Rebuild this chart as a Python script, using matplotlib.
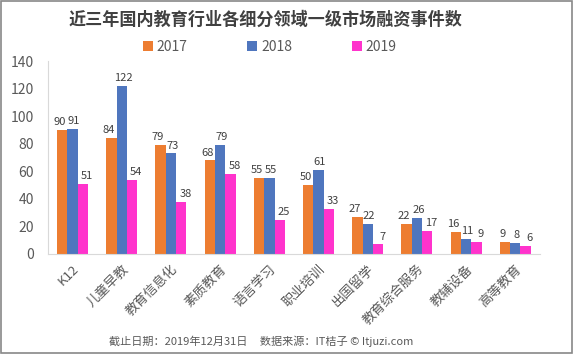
import matplotlib
matplotlib.use("Agg")
import matplotlib.pyplot as plt
from matplotlib.transforms import offset_copy
import numpy as np

plt.rcParams['font.family'] = ['Noto Sans CJK SC', 'DejaVu Sans']

categories = ["K12", "儿童早教", "教育信息化", "素质教育", "语言学习", "职业培训",
              "出国留学", "教育综合服务", "教辅设备", "高等教育"]
years = ["2017", "2018", "2019"]
v2017 = [90, 84, 79, 68, 55, 50, 27, 22, 16, 9]
v2018 = [91, 122, 73, 79, 55, 61, 22, 26, 11, 8]
v2019 = [51, 54, 38, 58, 25, 33, 7, 17, 9, 6]
colors = ["#ED7D31", "#4F76BE", "#FF33CC"]

fig = plt.figure(figsize=(5.74, 3.54), dpi=100)
ax = fig.add_axes([0.0836, 0.2825, 0.857, 0.545])

x = np.arange(len(categories))
w = 0.21
xoffs = [-1.8, 1.0, 3.0]  # points
for i, (vals, c, lab) in enumerate(zip([v2017, v2018, v2019], colors, years)):
    bars = ax.bar(x + (i - 1) * w, vals, w, color=c, label=lab)
    tr = offset_copy(ax.transData, fig=fig, x=xoffs[i], y=2, units='points')
    for b, v in zip(bars, vals):
        ax.text(b.get_x() + b.get_width() / 2, v, str(v), ha='center', va='bottom',
                fontsize=8, color='#404040', transform=tr)

ax.set_xlim(-0.5, len(categories) - 0.5)
ax.set_ylim(0, 140)
ax.set_yticks(np.arange(0, 141, 20))
ax.set_xticks(x)
ax.set_xticklabels(categories, rotation=45, ha='right', rotation_mode='anchor',
                   fontsize=9.5, color='#595959')
ax.tick_params(axis='y', labelsize=10, colors='#595959', length=0, pad=10)
ax.tick_params(axis='x', length=0, pad=6)
for s in ['top', 'right']:
    ax.spines[s].set_visible(False)
ax.spines['left'].set_color('#D9D9D9')
ax.spines['bottom'].set_color('#D9D9D9')

fig.text(0.463, 0.945, "近三年国内教育行业各细分领域一级市场融资事件数", ha='center', va='center',
         fontsize=12.3, fontweight='bold', color='#404040')
leg = fig.legend(loc='center', bbox_to_anchor=(0.47, 0.868), ncol=3, frameon=False,
                 fontsize=10, handlelength=0.7, handleheight=0.7, columnspacing=4.3,
                 handletextpad=0.3)
for t in leg.get_texts():
    t.set_color('#595959')
fig.text(0.455, 0.035, "截止日期：2019年12月31日     数据来源：IT桔子 © Itjuzi.com",
         ha='center', va='center', fontsize=8, color='#595959')

fig.patches.append(plt.Rectangle((0.002, 0.003), 0.995, 0.993, transform=fig.transFigure,
                                 fill=False, edgecolor='#888888', linewidth=1.2))

fig.savefig("out.png", dpi=100)
